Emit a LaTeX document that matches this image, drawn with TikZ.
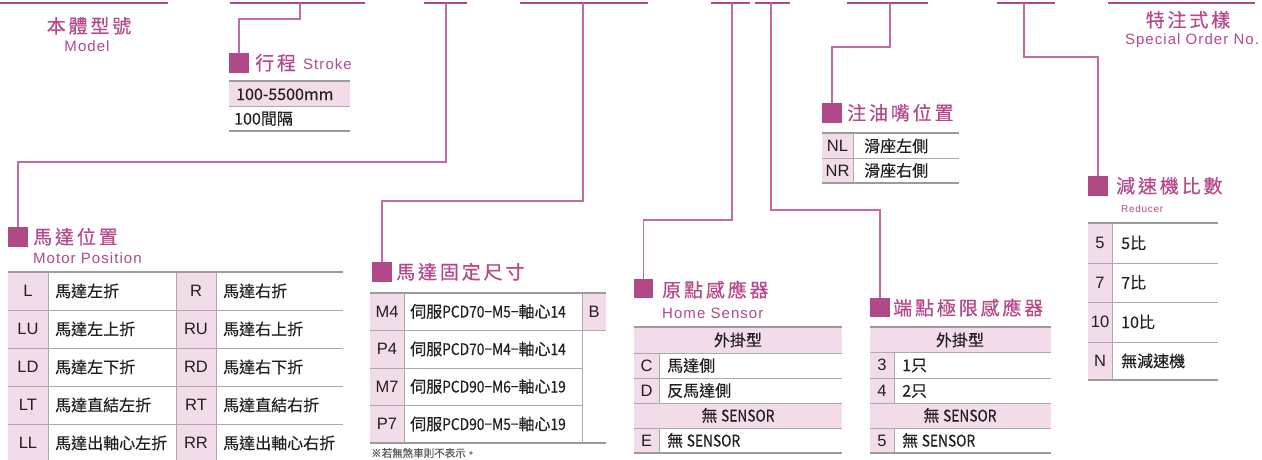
\documentclass[tikz,border=0pt]{standalone}
\usepackage{fontspec}
\setmainfont{Noto Sans CJK TC}
\newfontfamily\cjkfont{Noto Sans CJK TC}[FakeBold=0.35]
\newfontfamily\cjkcnd{Noto Sans CJK TC}[FakeBold=0.35,FakeStretch=0.86]
\newfontfamily\cjkttl{Noto Sans CJK TC}[LetterSpace=15,FakeBold=0.4]
\newfontfamily\latfont{Liberation Sans}
\newfontfamily\latsub{Liberation Sans}[LetterSpace=7]
\definecolor{magbar}{HTML}{B04A86}
\definecolor{titlec}{HTML}{B5478A}
\definecolor{connc}{HTML}{C46CA2}
\definecolor{pinkc}{HTML}{F2DCEA}
\definecolor{rulec}{HTML}{9B9B9B}
\definecolor{sepc}{HTML}{AAAAAA}
\definecolor{bodyc}{HTML}{231F20}
\tikzset{
  bar/.style={draw=magbar, line width=2.2pt},
  conn/.style={draw=connc, line width=1.4pt},
  mk/.style={fill=magbar, minimum size=19.5pt, inner sep=0pt, draw=none},
  ttl/.style={text=titlec, font=\cjkttl\fontsize{19}{21}\selectfont, anchor=base west, inner sep=0pt},
  sub/.style={text=titlec, font=\latsub\fontsize{15}{17}\selectfont, anchor=base west, inner sep=0pt},
  cell/.style={text=bodyc, font=\cjkfont\fontsize{16}{18}\selectfont, anchor=base west, inner sep=0pt, yshift=-6pt},
  ccell/.style={cell, anchor=base},
  code/.style={text=bodyc, font=\latfont\fontsize{16.5}{18}\selectfont, anchor=base, inner sep=0pt, yshift=-5.9pt},
  hr/.style={draw=rulec, line width=2pt},
  sep/.style={draw=sepc, line width=0.9pt},
  pk/.style={fill=pinkc}
}
\newcommand{\cn}[1]{{\cjkcnd #1}}
\begin{document}
\begin{tikzpicture}[x=1pt,y=-1pt]
\useasboundingbox (0,0) rectangle (1262,460);
% ---- top bars ----
\draw[bar] (0,3) -- (168,3);
\draw[bar] (230,3) -- (365,3);
\draw[bar] (424,3) -- (467,3);
\draw[bar] (520,3) -- (648,3);
\draw[bar] (711,3) -- (750,3);
\draw[bar] (755,3) -- (790,3);
\draw[bar] (847,3) -- (928,3);
\draw[bar] (997,3) -- (1055,3);
\draw[bar] (1108,3) -- (1255,3);
\coordinate (d2) at (300,3);
\coordinate (d3) at (446,3);
\coordinate (d4) at (583,3);
\coordinate (d5) at (732,3);
\coordinate (d6) at (771,3);
\coordinate (d7) at (890,3);
\coordinate (d8) at (1024,3);
% ---- model / special ----
\node[ttl, anchor=base] (tModel) at (89,33) {本體型號};
\node[sub, anchor=base] (sModel) at (87,52) {Model};
\node[ttl, anchor=base] (tSpec) at (1188,27) {特注式樣};
\node[sub, anchor=base] (sSpec) at (1192,45) {Special Order No.};
% ---- markers ----
\node[mk] (mkStroke) at (239,63) {};
\node[mk] (mkPos) at (18,237) {};
\node[mk] (mkFix) at (382,272) {};
\node[mk] (mkHome) at (643.5,288.5) {};
\node[mk] (mkLimit) at (880,307.5) {};
\node[mk] (mkOil) at (832,113) {};
\node[mk] (mkRed) at (1098,186) {};
% ---- connectors ----
\coordinate (e2) at (239,19);
\coordinate (e3) at (18,162);
\coordinate (e4) at (382,201);
\coordinate (e5) at (643.5,220);
\coordinate (e6) at (880,210);
\coordinate (e7) at (832,47);
\coordinate (e8) at (1098,57);
\draw[conn] (d2) |- (e2) -- (mkStroke.north);
\draw[conn] (d3) |- (e3) -- (mkPos.north);
\draw[conn] (d4) |- (e4) -- (mkFix.north);
\draw[conn] (d5) |- (e5) -- (mkHome.north);
\draw[conn] (d6) |- (e6) -- (mkLimit.north);
\draw[conn] (d7) |- (e7) -- (mkOil.north);
\draw[conn] (d8) |- (e8) -- (mkRed.north);
% ---- titles ----
\node[ttl] (tStroke) at (255,70) {行程};
\node[sub] (sStroke) at (303,70) {Stroke};
\node[ttl] (tPos) at (33,244) {馬達位置};
\node[sub] (sPos) at (33,263) {Motor Position};
\node[ttl] (tFix) at (396,279) {馬達固定尺寸};
\node[ttl] (tHome) at (662,297) {原點感應器};
\node[sub] (sHome) at (662,318) {Home Sensor};
\node[ttl] (tLimit) at (893,315) {端點極限感應器};
\node[ttl] (tOil) at (847,120) {注油嘴位置};
\node[ttl] (tRed) at (1116,193) {減速機比數};
\node[text=titlec, font=\latsub\fontsize{10}{12}\selectfont, anchor=base west, inner sep=0pt] (sRed) at (1121,212) {Reducer};
% ---- stroke table ----
\fill[pk] (229,82) rectangle (350,106);
\draw[sep] (229,106) -- (350,106);
\draw[hr] (229,81) -- (350,81);
\draw[hr] (229,131) -- (350,131);
\node[cell] (st1) at (236,94) {100-5500mm};
\node[cell] (st2) at (234,118.5) {100間隔};
% ---- motor position table ----
\fill[pk] (8,273) rectangle (48,462);
\fill[pk] (176,273) rectangle (216,462);
\foreach \yy in {310,348,386,424} \draw[sep] (8,\yy) -- (343,\yy);
\foreach \xx in {48,176,216} \draw[sep] (\xx,273) -- (\xx,462);
\draw[hr] (8,272) -- (343,272);
\node[code] (p1a) at (28,291) {L};   \node[cell] (p1b) at (55,291) {馬達左折};
\node[code] (p1c) at (196,291) {R};  \node[cell] (p1d) at (223,291) {馬達右折};
\node[code] (p2a) at (28,329) {LU};  \node[cell] (p2b) at (55,329) {馬達左上折};
\node[code] (p2c) at (196,329) {RU}; \node[cell] (p2d) at (223,329) {馬達右上折};
\node[code] (p3a) at (28,367) {LD};  \node[cell] (p3b) at (55,367) {馬達左下折};
\node[code] (p3c) at (196,367) {RD}; \node[cell] (p3d) at (223,367) {馬達右下折};
\node[code] (p4a) at (28,405) {LT};  \node[cell] (p4b) at (55,405) {馬達直結左折};
\node[code] (p4c) at (196,405) {RT}; \node[cell] (p4d) at (223,405) {馬達直結右折};
\node[code] (p5a) at (28,443) {LL};  \node[cell] (p5b) at (55,443) {馬達出軸心左折};
\node[code] (p5c) at (196,443) {RR}; \node[cell] (p5d) at (223,443) {馬達出軸心右折};
% ---- motor fixing table ----
\fill[pk] (370,294) rectangle (404,443);
\fill[pk] (582,294) rectangle (606,330);
\draw[sep] (370,330) -- (606,330);
\draw[sep] (370,368) -- (582,368);
\draw[sep] (370,405) -- (582,405);
\draw[sep] (404,294) -- (404,443);
\draw[sep] (582,294) -- (582,443);
\draw[hr] (370,293) -- (606,293);
\draw[hr] (370,443) -- (606,443);
\node[code] (f1a) at (387,311.5) {M4}; \node[cell] (f1b) at (410,311.5) {伺服\cn{PCD70−M5−}軸心\cn{14}};
\node[code] (f1c) at (594,311.5) {B};
\node[code] (f2a) at (387,349) {P4};   \node[cell] (f2b) at (410,349) {伺服\cn{PCD70−M4−}軸心\cn{14}};
\node[code] (f3a) at (387,386.5) {M7}; \node[cell] (f3b) at (410,386.5) {伺服\cn{PCD90−M6−}軸心\cn{19}};
\node[code] (f4a) at (387,424) {P7};   \node[cell] (f4b) at (410,424) {伺服\cn{PCD90−M5−}軸心\cn{19}};
\node[text=bodyc!75, font=\cjkfont\fontsize{10.5}{12}\selectfont, anchor=base west, inner sep=0pt] (fnote) at (371,457) {※若無煞車則不表示。};
% ---- home sensor table ----
\fill[pk] (634,328) rectangle (842,353);
\fill[pk] (634,403) rectangle (842,428);
\fill[pk] (634,353) rectangle (659,403);
\fill[pk] (634,428) rectangle (659,453);
\foreach \yy in {353,378,403,428} \draw[sep] (634,\yy) -- (842,\yy);
\draw[sep] (659,353) -- (659,403);
\draw[sep] (659,428) -- (659,453);
\draw[hr] (634,327) -- (842,327);
\draw[hr] (634,453) -- (842,453);
\node[ccell] (h0) at (738,340) {外掛型};
\node[code] (h1a) at (646.5,365.5) {C}; \node[cell] (h1b) at (667,365.5) {馬達側};
\node[code] (h2a) at (646.5,390.5) {D}; \node[cell] (h2b) at (667,390.5) {反馬達側};
\node[ccell] (h3) at (738,415.5) {無\ \cn{SENSOR}};
\node[code] (h4a) at (646.5,440.5) {E}; \node[cell] (h4b) at (667,440.5) {無\ \cn{SENSOR}};
% ---- limit sensor table ----
\fill[pk] (870,328) rectangle (1051,352);
\fill[pk] (870,403) rectangle (1051,428);
\fill[pk] (870,352) rectangle (894,403);
\fill[pk] (870,428) rectangle (894,453);
\foreach \yy in {352,378,403,428} \draw[sep] (870,\yy) -- (1051,\yy);
\draw[sep] (894,352) -- (894,403);
\draw[sep] (894,428) -- (894,453);
\draw[hr] (870,327) -- (1051,327);
\draw[hr] (870,453) -- (1051,453);
\node[ccell] (l0) at (960,340) {外掛型};
\node[code] (l1a) at (882,365) {3}; \node[cell] (l1b) at (902,365) {1只};
\node[code] (l2a) at (882,390.5) {4}; \node[cell] (l2b) at (902,390.5) {2只};
\node[ccell] (l3) at (960,415.5) {無\ \cn{SENSOR}};
\node[code] (l4a) at (882,440.5) {5}; \node[cell] (l4b) at (902,440.5) {無\ \cn{SENSOR}};
% ---- oil nozzle table ----
\fill[pk] (822,134) rectangle (853,183);
\draw[sep] (822,158) -- (959,158);
\draw[sep] (853,134) -- (853,183);
\draw[hr] (822,133) -- (959,133);
\draw[hr] (822,183) -- (959,183);
\node[code] (o1a) at (837.5,146) {NL}; \node[cell] (o1b) at (864,146) {滑座左側};
\node[code] (o2a) at (837.5,170.5) {NR}; \node[cell] (o2b) at (864,170.5) {滑座右側};
% ---- reducer table ----
\fill[pk] (1088,224) rectangle (1112,380);
\foreach \yy in {263,302,342} \draw[sep] (1088,\yy) -- (1218,\yy);
\draw[sep] (1112,224) -- (1112,380);
\draw[hr] (1088,223) -- (1218,223);
\draw[hr] (1088,380) -- (1218,380);
\node[code] (r1a) at (1100,243) {5};    \node[cell] (r1b) at (1121,243) {5比};
\node[code] (r2a) at (1100,282.5) {7};  \node[cell] (r2b) at (1121,282.5) {7比};
\node[code] (r3a) at (1100,322) {10};   \node[cell] (r3b) at (1121,322) {10比};
\node[code] (r4a) at (1100,361) {N};    \node[cell] (r4b) at (1121,361) {無減速機};
\end{tikzpicture}
\end{document}
